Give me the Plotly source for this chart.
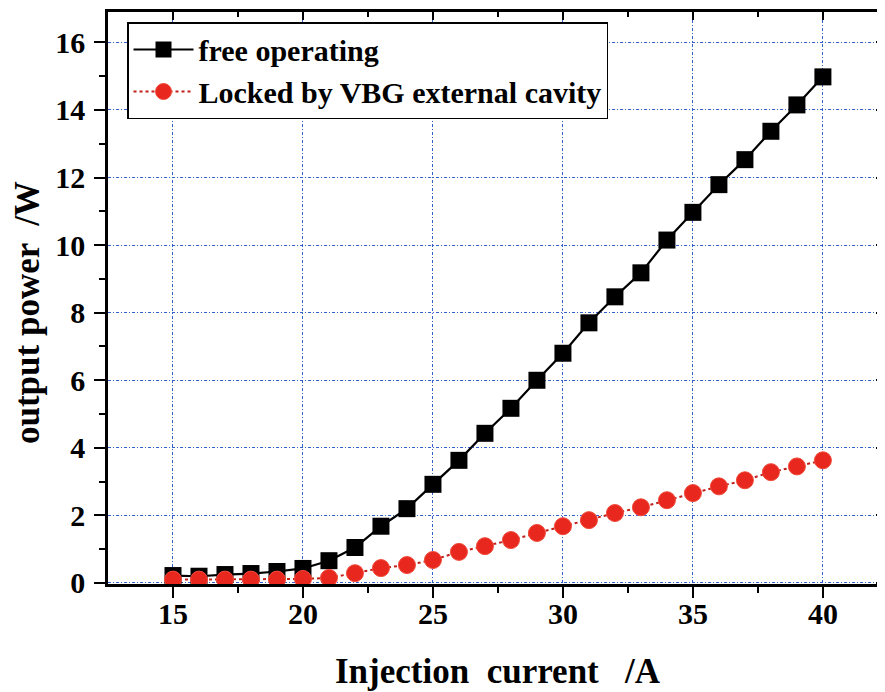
import plotly.graph_objects as go

current = list(range(15, 41))
free_power = [0.22, 0.2, 0.25, 0.28, 0.34, 0.43, 0.66, 1.05, 1.68, 2.2, 2.92, 3.63,
              4.43, 5.17, 6.0, 6.8, 7.7, 8.47, 9.18, 10.15, 10.97, 11.79, 12.53,
              13.37, 14.15, 14.98]
locked_power = [0.1, 0.1, 0.1, 0.1, 0.1, 0.12, 0.15, 0.29, 0.44, 0.53, 0.68, 0.92,
                1.09, 1.27, 1.48, 1.68, 1.86, 2.07, 2.24, 2.45, 2.66, 2.86, 3.04,
                3.28, 3.45, 3.63]
x_ticks = [15, 20, 25, 30, 35, 40]
y_ticks = [0, 2, 4, 6, 8, 10, 12, 14, 16]
x_title = "Injection  current   /A"
y_title = "output power  /W"

FONT = "Liberation Serif"
XR = [12.5, 42.35]
YR = [-0.03, 16.9]
GRID = "rgba(40,90,200,0.95)"
GDASH = "3px,2px,1px,2px"

fig = go.Figure()
fig.add_trace(go.Scatter(
    x=current, y=free_power, name="free operating", mode="lines+markers",
    line=dict(color="black", width=2.2),
    marker=dict(symbol="square", size=17, color="black"),
))
fig.add_trace(go.Scatter(
    x=current, y=locked_power, name="Locked by VBG external cavity", mode="lines+markers",
    line=dict(color="#c0201a", width=2, dash="dot"),
    marker=dict(symbol="circle", size=17, color="#e8281e", line=dict(color="#f04a3a", width=1)),
))
# invisible trace to anchor the mirrored axes
fig.add_trace(go.Scatter(
    x=current, y=free_power, xaxis="x2", yaxis="y2", mode="lines",
    line=dict(color="rgba(0,0,0,0)"), showlegend=False, hoverinfo="skip",
))

axis_font = dict(family=FONT, size=30, color="black", weight="bold")
fig.update_layout(
    width=885, height=692,
    margin=dict(l=100, r=9, t=4, b=116, autoexpand=False),
    paper_bgcolor="white", plot_bgcolor="white",
    font=dict(family=FONT, color="black"),
    xaxis=dict(
        range=XR, tickvals=x_ticks, ticks="outside", ticklen=11, tickwidth=2,
        tickcolor="black", showline=True, linewidth=2.5, linecolor="black",
        showgrid=True, gridcolor=GRID, griddash=GDASH, gridwidth=1.3,
        zeroline=False, tickfont=axis_font, ticklabelstandoff=-10, automargin=False,
        minor=dict(tickvals=[17.5, 22.5, 27.5, 32.5, 37.5], ticks="outside",
                   ticklen=6, tickwidth=2, tickcolor="black", showgrid=False),
    ),
    yaxis=dict(
        range=YR, tickvals=y_ticks, ticks="outside", ticklen=11, tickwidth=2,
        tickcolor="black", showline=True, linewidth=2.5, linecolor="black",
        showgrid=True, gridcolor=GRID, griddash=GDASH, gridwidth=1.3,
        zeroline=False, tickfont=axis_font, ticklabelstandoff=3, automargin=False,
        minor=dict(tickvals=[1, 3, 5, 7, 9, 11, 13, 15], ticks="outside",
                   ticklen=6, tickwidth=2, tickcolor="black", showgrid=False),
    ),
    xaxis2=dict(
        range=XR, overlaying="x", side="top", anchor="y2", automargin=False,
        tickvals=x_ticks, ticks="inside", ticklen=8, tickwidth=2, tickcolor="black",
        showticklabels=False, showline=True, linewidth=2.5, linecolor="black",
        showgrid=False, zeroline=False,
        minor=dict(tickvals=[17.5, 22.5, 27.5, 32.5, 37.5], ticks="inside",
                   ticklen=5, tickwidth=2, tickcolor="black", showgrid=False),
    ),
    yaxis2=dict(
        range=YR, overlaying="y", side="right", anchor="x2", automargin=False,
        tickvals=y_ticks, ticks="inside", ticklen=8, tickwidth=2, tickcolor="black",
        showticklabels=False, showline=True, linewidth=2.5, linecolor="black",
        showgrid=False, zeroline=False,
        minor=dict(tickvals=[1, 3, 5, 7, 9, 11, 13, 15], ticks="inside",
                   ticklen=5, tickwidth=2, tickcolor="black", showgrid=False),
    ),
    legend=dict(
        x=0.0245, y=0.9825, xanchor="left", yanchor="top",
        bgcolor="white", bordercolor="black", borderwidth=1.5,
        font=dict(family=FONT, size=30, color="black", weight="bold"),
        itemwidth=60, tracegroupgap=0,
    ),
    showlegend=True,
    annotations=[
        dict(text=x_title, xref="paper", yref="paper", x=0.5026, y=-0.1538,
             xanchor="center", yanchor="middle", showarrow=False,
             font=dict(family=FONT, size=35, color="black", weight="bold")),
        dict(text=y_title, xref="paper", yref="paper", x=-0.1044, y=0.4755,
             xanchor="center", yanchor="middle", showarrow=False, textangle=-90,
             font=dict(family=FONT, size=35, color="black", weight="bold")),
    ],
)

fig.write_html("out.html")
